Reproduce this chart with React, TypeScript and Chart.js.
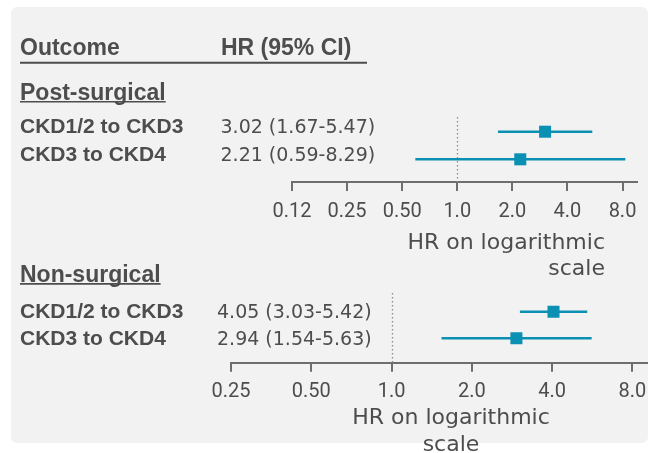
import React, { useEffect, useRef } from "react";
import { Chart, registerables } from "chart.js";
Chart.register(...registerables);

// ---- data ----
const outcomes = ["CKD1/2 to CKD3", "CKD3 to CKD4"];
const sections = ["Post-surgical", "Non-surgical"];
const headers = ["Outcome", "HR (95% CI)"];
const axisTitle = ["HR on logarithmic", "scale"];

const postHR = [3.02, 2.21];
const postLow = [1.67, 0.59];
const postHigh = [5.47, 8.29];

const nonHR = [4.05, 2.94];
const nonLow = [3.03, 1.54];
const nonHigh = [5.42, 5.63];

const postTicks = [0.125, 0.25, 0.5, 1, 2, 4, 8];
const postTickLabels = ["0.12", "0.25", "0.50", "1.0", "2.0", "4.0", "8.0"];
const nonTicks = [0.25, 0.5, 1, 2, 4, 8];
const nonTickLabels = ["0.25", "0.50", "1.0", "2.0", "4.0", "8.0"];

// ---- styles ----
const TEAL = "#0a90b2";
const TEXT = "#4d4d4d";
const AXIS = "#6e6e6e";
const W = 649;
const H = 453;
const AXH = 50;

type Panel = {
  hr: number[];
  low: number[];
  high: number[];
  ticks: number[];
  tickLabels: string[];
  xMin: number;
  xMax: number;
  yMin: number;
  yMax: number;
  padding: { left: number; right: number; top: number; bottom: number };
  tickPad: number;
  section: string;
  sectionBaseline: number;
  textDy: number;
  hrX: number;
  header: boolean;
  titleAlign: CanvasTextAlign;
  titleX: number;
  titleY: number[];
};

const panels: Panel[] = [
  {
    hr: postHR,
    low: postLow,
    high: postHigh,
    ticks: postTicks,
    tickLabels: postTickLabels,
    xMin: 0.125,
    xMax: 9.6,
    yMin: 0.467,
    yMax: 2.822,
    padding: { left: 292, right: 12, top: 117, bottom: H - 182 - AXH },
    tickPad: 8.5,
    section: sections[0],
    sectionBaseline: 99.5,
    textDy: 1.5,
    hrX: 220.5,
    header: true,
    titleAlign: "right",
    titleX: 605,
    titleY: [248.5, 275],
  },
  {
    hr: nonHR,
    low: nonLow,
    high: nonHigh,
    ticks: nonTicks,
    tickLabels: nonTickLabels,
    xMin: 0.25,
    xMax: 9.08,
    yMin: 0.297,
    yMax: 2.917,
    padding: { left: 231, right: 2, top: 293, bottom: H - 362.7 - AXH },
    tickPad: 8,
    section: sections[1],
    sectionBaseline: 281.7,
    textDy: 6.5,
    hrX: 217,
    header: false,
    titleAlign: "center",
    titleX: 451,
    titleY: [423.5, 451],
  },
];

function makeConfig(p: Panel): any {
  const ciSets = p.hr.map((_, i) => ({
    type: "scatter",
    showLine: true,
    data: [
      { x: p.low[i], y: i + 1 },
      { x: p.high[i], y: i + 1 },
    ],
    borderColor: TEAL,
    borderWidth: 2.5,
    pointRadius: 0,
    order: 2,
  }));
  const pointSet = {
    type: "scatter",
    data: p.hr.map((v, i) => ({ x: v, y: i + 1 })),
    pointStyle: "rect",
    pointRadius: 8.5,
    backgroundColor: TEAL,
    borderColor: TEAL,
    borderWidth: 0,
    order: 1,
  };

  const refLine = {
    id: "refLine",
    beforeDatasetsDraw(chart: any) {
      const ctx = chart.ctx;
      const xs = chart.scales.x;
      const a = chart.chartArea;
      const x = Math.round(xs.getPixelForValue(1)) + 0.5;
      ctx.save();
      ctx.strokeStyle = "#8c8c8c";
      ctx.lineWidth = 1.3;
      ctx.setLineDash([1.5, 2.5]);
      ctx.beginPath();
      ctx.moveTo(x, a.top);
      ctx.lineTo(x, a.bottom);
      ctx.stroke();
      ctx.restore();
    },
  };

  const texts = {
    id: "texts",
    afterDraw(chart: any) {
      const ctx = chart.ctx;
      const ys = chart.scales.y;
      ctx.save();
      ctx.fillStyle = TEXT;
      ctx.strokeStyle = TEXT;
      ctx.textBaseline = "alphabetic";
      ctx.textAlign = "left";
      if (p.header) {
        ctx.font = "bold 23px 'Liberation Sans'";
        ctx.fillText(headers[0], 20, 54.5);
        ctx.fillText(headers[1], 221, 54.5);
        ctx.lineWidth = 2;
        ctx.beginPath();
        ctx.moveTo(20, 62.7);
        ctx.lineTo(367, 62.7);
        ctx.stroke();
      }
      // section header with underline
      ctx.font = "bold 23px 'Liberation Sans'";
      ctx.fillText(p.section, 20, p.sectionBaseline);
      const sw = ctx.measureText(p.section).width;
      ctx.lineWidth = 1.6;
      ctx.beginPath();
      ctx.moveTo(20, p.sectionBaseline + 2.2);
      ctx.lineTo(20 + sw, p.sectionBaseline + 2.2);
      ctx.stroke();
      // rows
      p.hr.forEach((v, i) => {
        const y = ys.getPixelForValue(i + 1) + p.textDy;
        ctx.font = "bold 21px 'Liberation Sans'";
        ctx.fillText(outcomes[i], 20, y);
        ctx.font = "19px 'DejaVu Sans'";
        const txt = `${v.toFixed(2)} (${p.low[i].toFixed(2)}-${p.high[i].toFixed(2)})`;
        ctx.fillText(txt, p.hrX, y);
      });
      // axis title
      ctx.font = "22px 'DejaVu Sans'";
      ctx.textAlign = p.titleAlign;
      ctx.fillText(axisTitle[0], p.titleX, p.titleY[0]);
      ctx.fillText(axisTitle[1], p.titleX, p.titleY[1]);
      ctx.restore();
    },
  };

  return {
    type: "scatter",
    data: { datasets: [...ciSets, pointSet] },
    options: {
      animation: false,
      responsive: false,
      events: [],
      layout: { padding: p.padding, autoPadding: false },
      plugins: {
        legend: { display: false },
        tooltip: { enabled: false },
        title: { display: false },
      },
      scales: {
        x: {
          type: "logarithmic",
          position: "bottom",
          min: p.xMin,
          max: p.xMax,
          afterBuildTicks: (scale: any) => {
            scale.ticks = p.ticks.map((v) => ({ value: v }));
          },
          afterFit: (scale: any) => {
            scale.height = AXH;
            scale.paddingLeft = 0;
            scale.paddingRight = 0;
            scale.paddingTop = 0;
            scale.paddingBottom = 0;
          },
          grid: {
            drawOnChartArea: false,
            drawTicks: true,
            tickLength: 9,
            tickColor: AXIS,
            tickWidth: 2,
            lineWidth: 2,
            color: AXIS,
          },
          border: { display: true, color: AXIS, width: 2 },
          ticks: {
            autoSkip: false,
            maxRotation: 0,
            minRotation: 0,
            padding: p.tickPad,
            color: TEXT,
            font: { family: "Roboto", size: 20, lineHeight: 1.2 },
            callback: (value: number) => {
              const idx = p.ticks.findIndex((t) => Math.abs(t - value) < 1e-9);
              return idx >= 0 ? p.tickLabels[idx] : "";
            },
          },
        },
        y: {
          type: "linear",
          display: false,
          reverse: true,
          min: p.yMin,
          max: p.yMax,
        },
      },
    },
    plugins: [refLine, texts],
  };
}

function PanelChart({ p }: { p: Panel }) {
  const ref = useRef<HTMLCanvasElement | null>(null);
  useEffect(() => {
    if (!ref.current) return;
    const chart = new Chart(ref.current, makeConfig(p));
    return () => chart.destroy();
  }, [p]);
  return (
    <canvas
      ref={ref}
      width={W}
      height={H}
      style={{ position: "absolute", left: 0, top: 0, width: W, height: H }}
    />
  );
}

export default function App() {
  return (
    <div
      style={{
        position: "absolute",
        left: 0,
        top: 0,
        width: W,
        height: H,
        background: "#ffffff",
        overflow: "hidden",
      }}
    >
      <div
        style={{
          position: "absolute",
          left: 11,
          top: 7,
          width: 637,
          height: 436,
          background: "#f2f2f2",
          borderRadius: 6,
        }}
      />
      {panels.map((p, i) => (
        <PanelChart key={i} p={p} />
      ))}
    </div>
  );
}
